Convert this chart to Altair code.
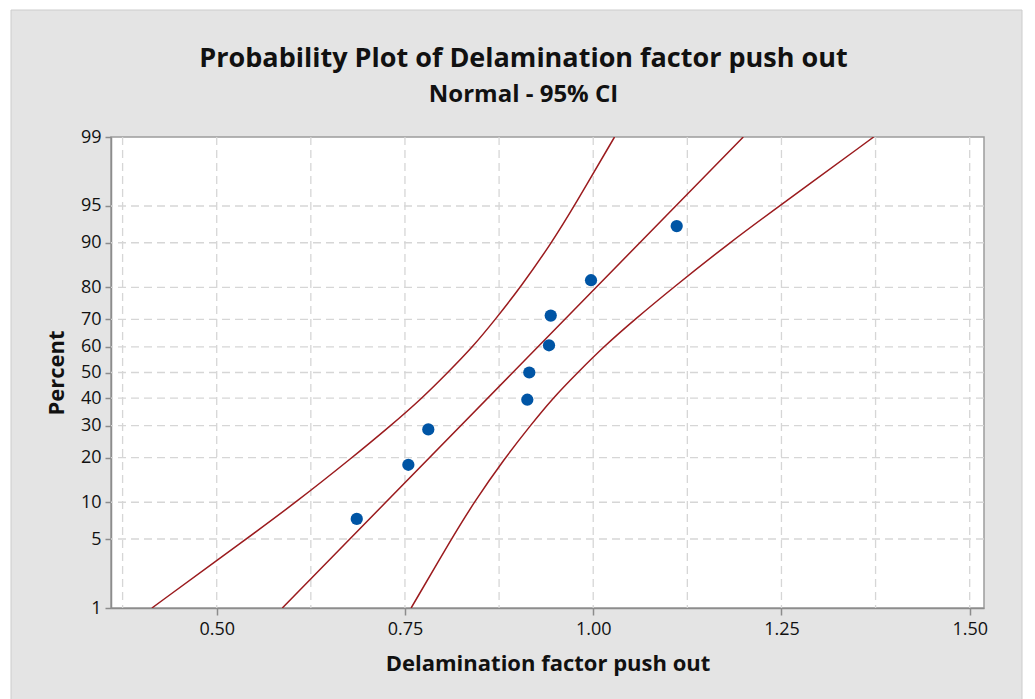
import altair as alt
import pandas as pd
from statistics import NormalDist

# Observed sample, sorted, with plotting positions (percent)
sample_values = [0.686, 0.7545, 0.781, 0.9125, 0.9151, 0.9413, 0.9436, 0.9971, 1.1109]
sample_percent = [7.4, 18.1, 28.7, 39.4, 50.0, 60.6, 71.3, 81.9, 92.6]

# Fitted normal line
fit_percent = [1, 50, 99]
fit_values = [0.5871, 0.8932, 1.1993]

# 95% confidence band, both sides
ci_percent = [1, 5, 10, 20, 30, 40, 50, 60, 70, 80, 90, 95, 99]
ci_left = [0.4139, 0.5392, 0.6053, 0.6798, 0.7312, 0.7728, 0.8069,
           0.8401, 0.8700, 0.9034, 0.9448, 0.9749, 1.0283]
ci_right = [0.7582, 0.8116, 0.8417, 0.8830, 0.9165, 0.9463, 0.9795,
            1.0137, 1.0552, 1.1066, 1.1810, 1.2473, 1.3725]

# Axes
x_ticks = [0.50, 0.75, 1.00, 1.25, 1.50]
x_grid = [0.375, 0.5, 0.625, 0.75, 0.875, 1.0, 1.125, 1.25, 1.375, 1.5]
x_domain = [0.3596, 1.519]
y_ticks = [1, 5, 10, 20, 30, 40, 50, 60, 70, 80, 90, 95, 99]
y_grid = [5, 10, 20, 30, 40, 50, 60, 70, 80, 90, 95]
y_limits = [1, 99]

FONT = "Open Sans"
LINE_RED = "#9b1b1e"
DOT_BLUE = "#0055a5"
PANEL = "#e4e4e4"
W, H = 873, 471

nd = NormalDist()
y_tick_z = [nd.inv_cdf(p / 100) for p in y_ticks]
y_domain = [nd.inv_cdf(p / 100) for p in y_limits]

probit = "quantileNormal(datum.percent / 100)"

x_scale = alt.Scale(domain=x_domain, nice=False, zero=False)
y_scale = alt.Scale(domain=y_domain, nice=False, zero=False)

x_axis = alt.Axis(
    values=x_ticks, format=".2f", grid=False, title="Delamination factor push out",
    tickSize=7, labelPadding=5, titlePadding=15,
)
y_axis = alt.Axis(
    values=y_tick_z, grid=False, title="Percent",
    labelExpr="format(cumulativeNormal(datum.value) * 100, '.0f')",
    tickSize=6, labelPadding=4, titlePadding=12,
)

# White margins around the grey figure area
strips = pd.DataFrame({
    "x": [-111, -111, 911], "x2": [924, -100, 924],
    "y": [-137, -137, -137], "y2": [-127, 562, 562],
})
margin = alt.Chart(strips).mark_rect(color="white").encode(
    x=alt.X("x:Q", scale=None), x2="x2:Q",
    y=alt.Y("y:Q", scale=None), y2="y2:Q",
)
panel_edge = alt.Chart(alt.Data(values=[{}])).mark_rect(
    fill=None, stroke="#cccccc", strokeWidth=1
).encode(x=alt.value(-100), x2=alt.value(911), y=alt.value(-127), y2=alt.value(600))

grid_style = dict(color="#d6d6d6", strokeWidth=1.3, strokeDash=[8, 5])
vgrid = alt.Chart(pd.DataFrame({"v": x_grid})).mark_rule(**grid_style).encode(
    x=alt.X("v:Q", scale=x_scale, axis=x_axis)
)
hgrid = (
    alt.Chart(pd.DataFrame({"percent": y_grid}))
    .transform_calculate(z=probit)
    .mark_rule(**grid_style)
    .encode(y=alt.Y("z:Q", scale=y_scale, axis=y_axis))
)

band_rows = []
for p, v in zip(ci_percent, ci_left):
    band_rows.append({"series": "ci_left", "percent": p, "value": v})
for p, v in zip(ci_percent, ci_right):
    band_rows.append({"series": "ci_right", "percent": p, "value": v})
for p, v in zip(fit_percent, fit_values):
    band_rows.append({"series": "fit", "percent": p, "value": v})

lines = (
    alt.Chart(pd.DataFrame(band_rows))
    .transform_calculate(z=probit)
    .mark_line(color=LINE_RED, strokeWidth=1.5, interpolate="basis", clip=True)
    .encode(
        x=alt.X("value:Q", scale=x_scale, axis=x_axis),
        y=alt.Y("z:Q", scale=y_scale, axis=y_axis),
        detail="series:N",
        order="percent:Q",
    )
)

points = (
    alt.Chart(pd.DataFrame({"value": sample_values, "percent": sample_percent}))
    .transform_calculate(z=probit)
    .mark_circle(color=DOT_BLUE, size=150, opacity=1)
    .encode(
        x=alt.X("value:Q", scale=x_scale, axis=x_axis),
        y=alt.Y("z:Q", scale=y_scale, axis=y_axis),
    )
)

chart = (
    alt.layer(margin, panel_edge, vgrid, hgrid, lines, points)
    .properties(
        width=W, height=H,
        padding={"left": 111, "top": 137, "right": 51, "bottom": 91},
        autosize=alt.AutoSizeParams(type="none"),
        background=PANEL,
        title=alt.TitleParams(
            text="Probability Plot of Delamination factor push out",
            subtitle="Normal - 95% CI",
            font=FONT, fontSize=27, fontWeight="bold", color="#111111",
            subtitleFont=FONT, subtitleFontSize=24, subtitleFontWeight="bold",
            subtitleColor="#111111", subtitlePadding=10,
            anchor="middle", frame="group", dx=-24, dy=108, offset=0,
        ),
    )
    .configure_view(fill="white", stroke="#9c9c9c", strokeWidth=1.5)
    .configure_axis(
        domainColor="#8c8c8c", domainWidth=1.5, tickColor="#8c8c8c", tickWidth=1.5,
        labelFont=FONT, labelFontSize=18, labelColor="#111111",
        titleFont=FONT, titleFontSize=22, titleFontWeight="bold", titleColor="#111111",
    )
)

chart.save("out.html", embed_options={"renderer": "svg", "actions": False})
